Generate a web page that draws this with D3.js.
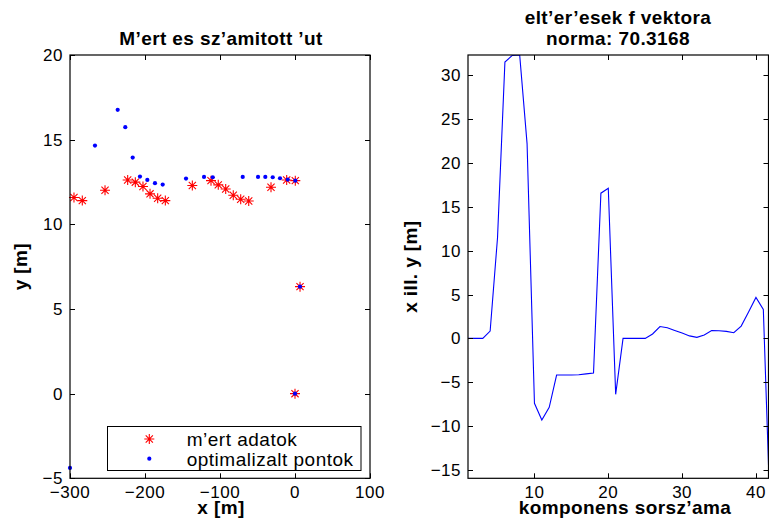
<!DOCTYPE html>
<html>
<head>
<meta charset="utf-8">
<script src="https://cdn.jsdelivr.net/npm/d3@7"></script>
<style>
  html, body { margin: 0; padding: 0; background: #fff; }
  svg { display: block; }
  text { font-family: "Liberation Sans", Arial, Helvetica, sans-serif; fill: #000; }
</style>
</head>
<body>
<svg id="chart" width="769" height="518"></svg>
<script>
// ---------------- DATA ----------------
const measX = [-294.7,-283.6,-253.3,-223.1,-212.9,-202.7,-193.3,-183.1,-172.9,-136.9,-112,-102.3,-92.4,-82.3,-72.4,-61.7,-32,-11.1,0.4,6.7,0];
const measY = [11.58,11.40,12.01,12.62,12.49,12.23,11.80,11.54,11.40,12.29,12.58,12.33,12.09,11.72,11.48,11.38,12.19,12.62,12.58,6.32,0];
const optX = [-266.7,-236.4,-226.3,-216.4,-206.7,-196.9,-186.7,-176.4,-145.3,-121.3,-109.7,-69.7,-49.3,-39.6,-29.7,-20,-9.7,0.4,6.7,0,-300];
const optY = [14.65,16.76,15.74,13.94,12.82,12.62,12.43,12.35,12.70,12.80,12.78,12.80,12.80,12.80,12.78,12.72,12.64,12.58,6.32,0,-4.39];
const errVals = [0,0,0,0.83,11.5,31.5,32.25,32.3,22.2,-7.4,-9.3,-7.86,-4.18,-4.18,-4.18,-4.15,-4.05,-3.95,16.55,17.1,-6.38,0,0,0,0,0.5,1.35,1.22,0.9,0.6,0.28,0.12,0.38,0.88,0.87,0.8,0.64,1.4,3.0,4.67,3.3,-22];
const leftXTicks = [-300,-200,-100,0,100];
const leftYTicks = [-5,0,5,10,15,20];
const rightXTicks = [10,20,30,40];
const rightYTicks = [-15,-10,-5,0,5,10,15,20,25,30];
const legendLabels = ["m\u2019ert adatok", "optimalizalt pontok"];
const leftTitle = "M\u2019ert es sz\u2019amitott \u2019ut";
const rightTitle = ["elt\u2019er\u2019esek f vektora", "norma: 70.3168"];
const leftXLabel = "x [m]", leftYLabel = "y [m]";
const rightXLabel = "komponens sorsz\u2019ama", rightYLabel = "x ill. y [m]";

// ---------------- LAYOUT ----------------
const svg = d3.select("#chart");
const TOP = 55, BOT = 478.3;
const TICKFONT = 17, LABFONT = 19, LS = "0.4px";
const fmt = v => (v < 0 ? "\u2212" + Math.abs(v) : String(v));

function drawAxes(g, x, y, xt, yt) {
  const [x0, x1] = x.range(), [y0, y1] = [y.range()[1], y.range()[0]];
  const tl = 5;
  xt.forEach(v => {
    const px = Math.round(x(v)) + 0.5;
    g.append("line").attr("x1", px).attr("x2", px).attr("y1", y1).attr("y2", y1 - tl).attr("stroke", "#000");
    g.append("line").attr("x1", px).attr("x2", px).attr("y1", y0).attr("y2", y0 + tl).attr("stroke", "#000");
    g.append("text").attr("x", x(v)).attr("y", y1 + 19.5).attr("text-anchor", "middle")
      .attr("font-size", TICKFONT).attr("letter-spacing", "0.5px").text(fmt(v));
  });
  yt.forEach(v => {
    const py = Math.round(y(v)) + 0.5;
    g.append("line").attr("x1", x0).attr("x2", x0 + tl).attr("y1", py).attr("y2", py).attr("stroke", "#000");
    g.append("line").attr("x1", x1).attr("x2", x1 - tl).attr("y1", py).attr("y2", py).attr("stroke", "#000");
    g.append("text").attr("x", x0 - 7).attr("y", y(v) + 6).attr("text-anchor", "end")
      .attr("font-size", TICKFONT).attr("letter-spacing", "0.5px").text(fmt(v));
  });
  g.append("rect").attr("x", x0).attr("y", y0).attr("width", x1 - x0).attr("height", y1 - y0)
    .attr("fill", "none").attr("stroke", "#000").attr("stroke-width", 1.2);
}

// ---------------- LEFT PLOT ----------------
const xL = d3.scaleLinear().domain([-300, 100]).range([70, 370]);
const yL = d3.scaleLinear().domain([-5, 20]).range([BOT, TOP]);
const gL = svg.append("g");
const starPath = "M-5,0H5M0,-5V5M-3.6,-3.6L3.6,3.6M-3.6,3.6L3.6,-3.6";

gL.selectAll("path.star").data(measX.map((d, i) => [d, measY[i]])).join("path")
  .attr("class", "star").attr("d", starPath)
  .attr("transform", d => `translate(${xL(d[0])},${yL(d[1])})`)
  .attr("stroke", "#ff0000").attr("stroke-width", 1.1).attr("fill", "none");
gL.selectAll("circle.opt").data(optX.map((d, i) => [d, optY[i]])).join("circle")
  .attr("class", "opt").attr("cx", d => xL(d[0])).attr("cy", d => yL(d[1])).attr("r", 2.1)
  .attr("fill", "#0000ff");
drawAxes(gL, xL, yL, leftXTicks, leftYTicks);

// legend
const lg = gL.append("g");
lg.append("rect").attr("x", 107.5).attr("y", 426.5).attr("width", 253.5).attr("height", 44)
  .attr("fill", "#fff").attr("stroke", "#000").attr("stroke-width", 1);
lg.append("path").attr("d", starPath).attr("transform", "translate(149.3,439)")
  .attr("stroke", "#ff0000").attr("stroke-width", 1.1).attr("fill", "none");
lg.append("circle").attr("cx", 149.3).attr("cy", 458.7).attr("r", 2.1).attr("fill", "#0000ff");
lg.append("text").attr("x", 186.7).attr("y", 445.5).attr("font-size", LABFONT).attr("letter-spacing", "0.5px").text(legendLabels[0]);
lg.append("text").attr("x", 186.7).attr("y", 465.5).attr("font-size", LABFONT).attr("letter-spacing", "0.5px").text(legendLabels[1]);

gL.append("text").attr("x", 221).attr("y", 45).attr("text-anchor", "middle")
  .attr("font-size", LABFONT).attr("font-weight", "bold").attr("letter-spacing", LS).text(leftTitle);
gL.append("text").attr("x", 221).attr("y", 514).attr("text-anchor", "middle")
  .attr("font-size", LABFONT).attr("font-weight", "bold").attr("letter-spacing", LS).text(leftXLabel);
gL.append("text").attr("transform", `translate(27,${(TOP + BOT) / 2}) rotate(-90)`).attr("text-anchor", "middle")
  .attr("font-size", LABFONT).attr("font-weight", "bold").attr("letter-spacing", LS).text(leftYLabel);

// ---------------- RIGHT PLOT ----------------
const xR = d3.scaleLinear().domain([1, 41.7]).range([468, 768.5]);
const yR = d3.scaleLinear().domain([-15.95, 32.3]).range([BOT, TOP]);
const gR = svg.append("g");
svg.append("defs").append("clipPath").attr("id", "clipR").append("rect")
  .attr("x", 468).attr("y", TOP).attr("width", 768.5 - 468).attr("height", BOT - TOP);
const line = d3.line().x((d, i) => xR(i + 1)).y(d => yR(d));
gR.append("path").datum(errVals).attr("d", line).attr("clip-path", "url(#clipR)")
  .attr("fill", "none").attr("stroke", "#0000ff").attr("stroke-width", 1.1);
drawAxes(gR, xR, yR, rightXTicks, rightYTicks);

gR.append("text").attr("x", 618).attr("y", 24).attr("text-anchor", "middle")
  .attr("font-size", LABFONT).attr("font-weight", "bold").attr("letter-spacing", LS).text(rightTitle[0]);
gR.append("text").attr("x", 618).attr("y", 45).attr("text-anchor", "middle")
  .attr("font-size", LABFONT).attr("font-weight", "bold").attr("letter-spacing", LS).text(rightTitle[1]);
gR.append("text").attr("x", 625).attr("y", 514).attr("text-anchor", "middle")
  .attr("font-size", LABFONT).attr("font-weight", "bold").attr("letter-spacing", LS).text(rightXLabel);
gR.append("text").attr("transform", `translate(417,${(TOP + BOT) / 2}) rotate(-90)`).attr("text-anchor", "middle")
  .attr("font-size", LABFONT).attr("font-weight", "bold").attr("letter-spacing", LS).text(rightYLabel);
</script>
</body>
</html>
